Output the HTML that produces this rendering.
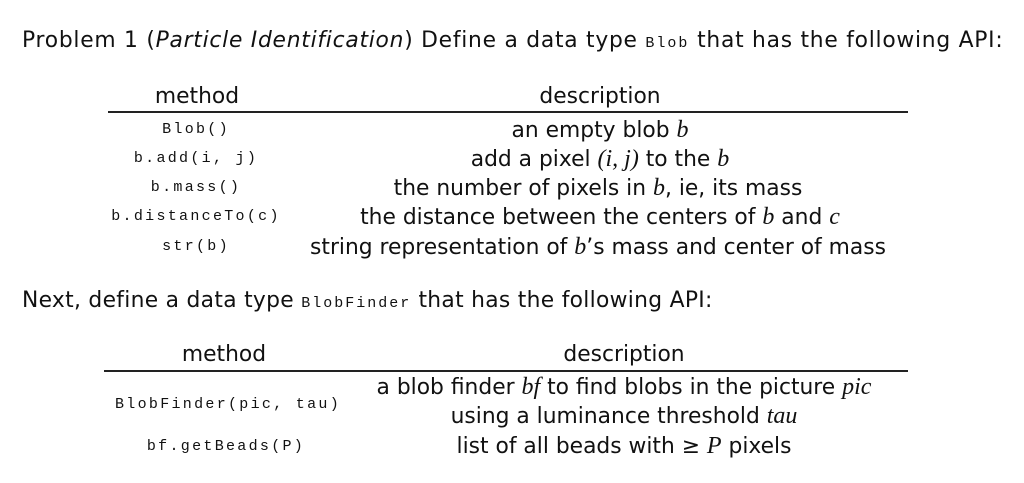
<!DOCTYPE html>
<html><head><style>
body{margin:0;background:#fff;width:1024px;height:483px;position:relative;overflow:hidden;font-family:"DejaVu Sans","Liberation Sans",sans-serif;color:#111}
.t{position:absolute;white-space:nowrap;font-size:21.8px;line-height:1}
.m{position:absolute;white-space:nowrap;font-family:"Liberation Mono",monospace;font-size:15px;letter-spacing:2.3px;line-height:1;transform:translateX(-50%)}
.c{transform:translateX(-50%)}
.r{position:absolute;height:1.5px;background:#222}
i.s{font-family:"Liberation Serif",serif;font-size:24px}
.mi{font-family:"Liberation Mono",monospace;font-size:15px;letter-spacing:2px}
</style></head><body>
<div class="t" style="left:22px;top:30px;letter-spacing:0.75px">Problem 1 (<i>Particle Identification</i>) Define a data type <span class="mi">Blob</span> that has the following API:</div>

<div class="t c" style="left:197px;top:86px">method</div>
<div class="t c" style="left:600px;top:86px">description</div>
<div class="r" style="left:108px;top:111px;width:800px"></div>
<div class="m" style="left:196px;top:122px">Blob()</div>
<div class="t c" style="left:600px;top:118px">an empty blob <i class="s">b</i></div>
<div class="m" style="left:196px;top:151px">b.add(i, j)</div>
<div class="t c" style="left:600px;top:147px">add a pixel <i class="s">(i, j)</i> to the <i class="s">b</i></div>
<div class="m" style="left:196px;top:180px">b.mass()</div>
<div class="t c" style="left:598px;top:176px">the number of pixels in <i class="s">b</i>, ie, its mass</div>
<div class="m" style="left:196px;top:209px">b.distanceTo(c)</div>
<div class="t c" style="left:600px;top:205px">the distance between the centers of <i class="s">b</i> and <i class="s">c</i></div>
<div class="m" style="left:196px;top:239px">str(b)</div>
<div class="t c" style="left:598px;top:235px">string representation of <i class="s">b</i>’s mass and center of mass</div>

<div class="t" style="left:22px;top:290px;letter-spacing:0.3px">Next, define a data type <span class="mi">BlobFinder</span> that has the following API:</div>

<div class="t c" style="left:224px;top:344px">method</div>
<div class="t c" style="left:624px;top:344px">description</div>
<div class="r" style="left:104px;top:370px;width:804px"></div>
<div class="m" style="left:228px;top:397px">BlobFinder(pic, tau)</div>
<div class="t c" style="left:624px;top:375px">a blob finder <i class="s">bf</i> to find blobs in the picture <i class="s">pic</i></div>
<div class="t c" style="left:624px;top:404px">using a luminance threshold <i class="s">tau</i></div>
<div class="m" style="left:226px;top:439px">bf.getBeads(P)</div>
<div class="t c" style="left:624px;top:434px">list of all beads with ≥ <i class="s">P</i> pixels</div>
</body></html>
